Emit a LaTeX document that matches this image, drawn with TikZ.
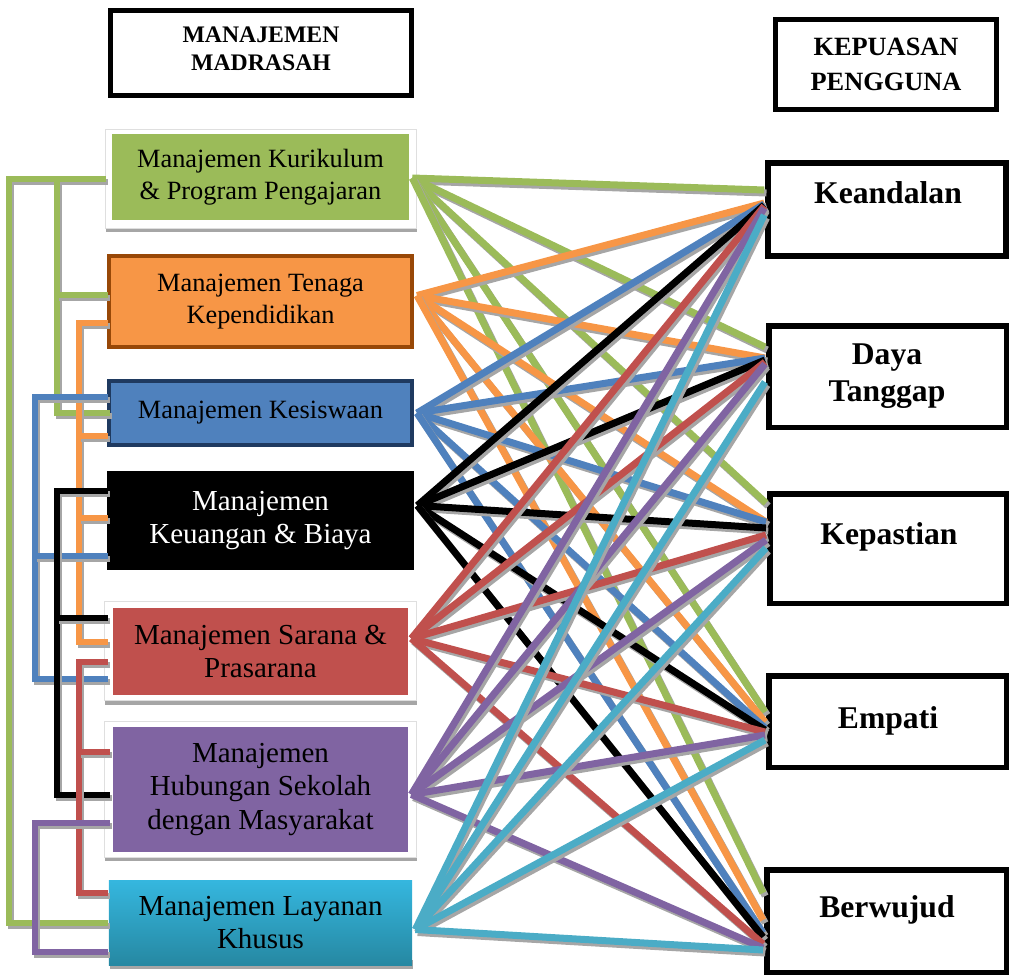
\documentclass[tikz,border=0pt]{standalone}
\usepackage{fontspec}
\setmainfont{Liberation Serif}
\usetikzlibrary{calc}
\definecolor{kgreen}{HTML}{9BBB59}
\definecolor{korange}{HTML}{F79646}
\definecolor{kblue}{HTML}{4F81BD}
\definecolor{kred}{HTML}{C0504D}
\definecolor{kpurple}{HTML}{8064A2}
\definecolor{kcyan}{HTML}{4BACC6}
\definecolor{cyantop}{HTML}{35B7DF}
\definecolor{cyanbot}{HTML}{2688A2}
\definecolor{rust}{HTML}{984807}
\definecolor{navy}{HTML}{1F3A60}
\definecolor{shadowgrey}{HTML}{A6A6A6}
\tikzset{
  lbox/.style={rectangle,inner sep=0pt,align=center,font=\fontsize{15}{18}\selectfont},
  bigtxt/.style={font=\fontsize{16.5}{19}\selectfont},
  hbox/.style={rectangle,draw=black,line width=1mm,fill=white,align=center,inner sep=0pt},
  rbox/.style={rectangle,draw=black,line width=1.1mm,fill=white,inner sep=0pt},
  rtxt/.style={align=center,inner sep=0pt,font=\bfseries\fontsize{18}{21}\selectfont},
  link/.style={line width=1.2mm,draw=#1},
  fan/.style={line width=1.4mm,draw=#1},
  shade/.style={draw=shadowgrey,transform canvas={shift={(0.45mm,-0.6mm)}}}
}
% a line with its grey shadow below it
\newcommand\shline[2]{\draw[#1,shade] #2; \draw[#1] #2;}
\begin{document}
\begin{tikzpicture}[x=0.2mm,y=-0.2mm]
\useasboundingbox (0,0) rectangle (1010,978);
% headers
\node[hbox,minimum width=60.2mm,minimum height=17mm] (madrasah) at (261,53) {};
\node[align=center,inner sep=0pt,font=\bfseries\fontsize{13.5}{16}\selectfont] (madrasah-t) at (261,49) {MANAJEMEN\\MADRASAH};
\node[hbox,minimum width=44.2mm,minimum height=18mm,font=\bfseries\fontsize{15}{19.5}\selectfont] (kepuasan) at (886,64.5) {KEPUASAN\\PENGGUNA};
% bus lines on the left
\coordinate (busA) at (9,0);
\coordinate (busB) at (35,0);
\coordinate (busC) at (57,0);
\coordinate (busD) at (79,0);
% left boxes
\fill[shadowgrey] (106,133) rectangle (417,232);
\fill[white,draw=gray!25] (105,129) rectangle (416,228);
\fill[shadowgrey] (105,604) rectangle (417,705);
\fill[white,draw=gray!25] (104,601) rectangle (416,700);
\fill[shadowgrey] (105,725) rectangle (417,861);
\fill[white,draw=gray!25] (104,721) rectangle (416,857);
\fill[shadowgrey] (110,960) rectangle (413,969);
\node[lbox,fill=kgreen,minimum width=59.4mm,minimum height=17.2mm] (kurikulum) at (260.5,177) {Manajemen Kurikulum\\\& Program Pengajaran};
\node[lbox,fill=korange,draw=rust,line width=0.8mm,minimum width=60.6mm,minimum height=18.2mm] (tenaga) at (260.5,301.5) {Manajemen Tenaga\\Kependidikan};
\node[lbox,fill=kblue,draw=navy,line width=0.8mm,minimum width=60.6mm,minimum height=12.8mm] (kesiswaan) at (260.5,413) {Manajemen Kesiswaan};
\node[lbox,bigtxt,fill=black,text=white,minimum width=61.4mm,minimum height=19.8mm] (keuangan) at (260.5,520.5) {Manajemen\\Keuangan \& Biaya};
\node[lbox,bigtxt,fill=kred,minimum width=59mm,minimum height=17.4mm] (sarana) at (260.5,651.5) {Manajemen Sarana \&\\Prasarana};
\node[lbox,bigtxt,fill=kpurple,minimum width=59mm,minimum height=25mm] (hubungan) at (260.5,789.5) {Manajemen\\Hubungan Sekolah\\dengan Masyarakat};
\node[lbox,bigtxt,top color=cyantop,bottom color=cyanbot,minimum width=60.6mm,minimum height=17mm] (layanan) at (260.5,922.5) {Manajemen Layanan\\Khusus};
% elbow links between the units
\shline{link=kgreen}{($(kurikulum.west)+(-6,2)$) -| (busA |- layanan.west) -- ($(layanan.west)+(-1,0)$)}
\shline{link=kgreen}{($(busC |- kurikulum.west)+(0,2)$) |- ($(kesiswaan.west)+(3,0)$)}
\shline{link=kgreen}{($(busC |- tenaga.west)+(0,-6.5)$) -- ($(tenaga.west)+(1,-6.5)$)}
\shline{link=korange}{($(tenaga.west)+(1,21.5)$) -| ($(busD |- sarana.west)+(0,-9.5)$) -- ($(sarana.west)+(-5,-9.5)$)}
\shline{link=korange}{($(busD |- kesiswaan.west)+(0,23)$) -- ($(kesiswaan.west)+(1,23)$)}
\shline{link=korange}{($(busD |- keuangan.west)+(0,-2.5)$) -- ($(keuangan.west)+(1,-2.5)$)}
\shline{link=kblue}{($(kesiswaan.west)+(1,-16)$) -| ($(busB |- sarana.west)+(0,27.5)$) -- ($(sarana.west)+(-5,27.5)$)}
\shline{link=kblue}{($(busB |- keuangan.west)+(0,35.5)$) -- ($(keuangan.west)+(1,35.5)$)}
\shline{link=black}{($(keuangan.west)+(1,-29.5)$) -| ($(busC |- hubungan.west)+(0,5.5)$) -- ($(hubungan.west)+(-3,5.5)$)}
\shline{link=black}{($(busC |- sarana.west)+(0,-33.5)$) -- ($(sarana.west)+(-5,-33.5)$)}
\shline{link=kred}{($(sarana.west)+(-5,10.5)$) -| ($(busD |- layanan.west)+(0,-29.5)$) -- ($(layanan.west)+(-1,-29.5)$)}
\shline{link=kred}{($(busD |- hubungan.west)+(0,-37.5)$) -- ($(hubungan.west)+(-3,-37.5)$)}
\shline{link=kpurple}{($(hubungan.west)+(-3,33.5)$) -| ($(busB |- layanan.west)+(0,29.5)$) -- ($(layanan.west)+(-1,29.5)$)}
% right boxes
\node[rbox,minimum width=47.6mm,minimum height=18.6mm] (keandalan) at (887,209.5) {};
\node[rbox,minimum width=47.5mm,minimum height=20.3mm] (daya) at (887.5,376.5) {};
\node[rbox,minimum width=47.3mm,minimum height=21.9mm] (kepastian) at (888,548.5) {};
\node[rbox,minimum width=47.5mm,minimum height=18.3mm] (empati) at (887.5,721.5) {};
\node[rbox,minimum width=47.9mm,minimum height=20.5mm] (berwujud) at (886.5,921) {};
\node[rtxt] (keandalan-t) at (888,193) {Keandalan};
\node[rtxt] (daya-t) at (887,376) {Daya\\Tanggap};
\node[rtxt] (kepastian-t) at (889,537) {Kepastian};
\node[rtxt] (empati-t) at (888,721) {Empati};
\node[rtxt] (berwujud-t) at (887,910) {Berwujud};
% every unit on the left joined to every satisfaction dimension
\foreach \src/\sdy/\col [count=\i] in {kurikulum/1/kgreen,tenaga/-6/korange,kesiswaan/0/kblue,keuangan/-15/black,sarana/-13/kred,hubungan/5/kpurple,layanan/7/kcyan}{
  \foreach \tgt/\offs in {keandalan/{-19.5,-6.5,-5.5,-4.5,-3.5,-1.5,5.5},daya/{-29.5,-18.5,-18.5,-16.5,-14.5,-12.5,5.5},kepastian/{-45.5,-26.5,-26.5,-20.5,-13.5,-8.5,-0.5},empati/{-9.5,0.5,6.5,8.5,10.5,13.5,18.5},berwujud/{-28,-1,12,16,23,27,29}}{
    \pgfmathsetmacro\tdy{{\offs}[\i-1]}
    \shline{fan=\col}{($(\src.east)+(3,\sdy)$) -- ($(\tgt.west)+(-1,\tdy)$)}
  }
}
\end{tikzpicture}
\end{document}
